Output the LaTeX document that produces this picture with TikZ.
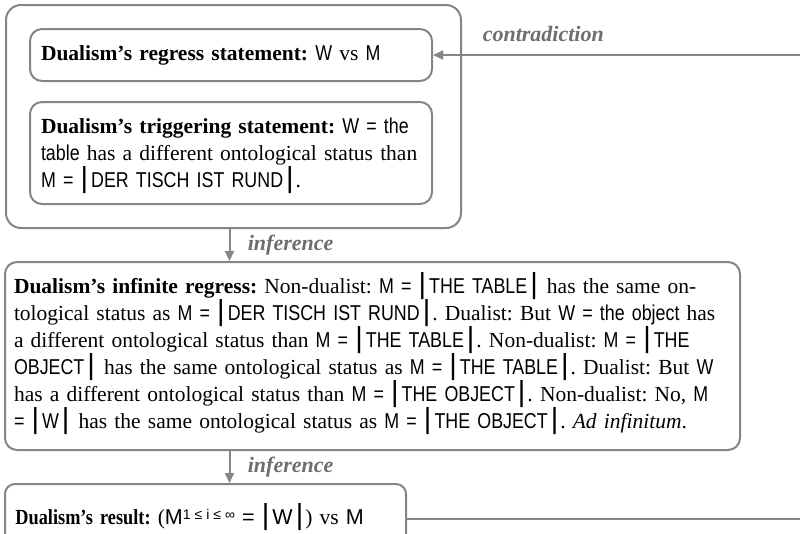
\documentclass[tikz,border=0pt]{standalone}
\usepackage{fontspec}
\setmainfont{Liberation Serif}
\newfontfamily\nsans[FakeStretch=0.83]{Liberation Sans}
\newfontfamily\fullsans{Liberation Sans}
\newfontfamily\condserif[FakeStretch=0.85]{Liberation Serif}
\usepackage{tikz}
\usetikzlibrary{positioning,arrows.meta}
\definecolor{linegray}{HTML}{858585}
\definecolor{labelgray}{HTML}{6E6E6E}
\newcommand{\sv}[1]{{\nsans #1}}
\newcommand{\vbar}{\smash{\fontsize{29}{27}\fullsans|}}
\newcommand{\ob}{\vbar\hspace{3pt}}
\newcommand{\cb}{\hspace{3pt}\vbar\hspace{2pt}}
\frenchspacing

\begin{document}
\begin{tikzpicture}[
    x=1pt, y=-1pt,
    >={Triangle[length=10pt,width=9pt]},
    box/.style={draw=linegray, line width=2pt, rounded corners=12pt,
                anchor=north west, inner xsep=10pt, align=left,
                font=\fontsize{21.5}{27}\selectfont},
    arrow/.style={->, draw=linegray, line width=2pt},
    lbl/.style={font=\fontsize{22}{26}\selectfont\bfseries\itshape,
                text=labelgray},
]
\useasboundingbox (0,0) rectangle (800,533);

% dualism group
\node[box, rounded corners=15pt, minimum width=455pt,
      minimum height=223pt] (group) at (5,4) {};
\node[box, minimum width=402pt, minimum height=52pt, text width=380pt]
    (regstmt) at (29,28)
    {\textbf{Dualism’s regress statement:} \sv{W} vs \sv{M}};
\node[box, minimum width=402pt, minimum height=102pt, text width=380pt]
    (trigger) at (29,101)
    {\textbf{Dualism’s triggering statement:} \sv{W = the}\\
     \sv{table} has a different ontological status than\\
     \sv{M =} \ob\sv{DER TISCH IST RUND}\cb.};

% infinite regress
\node[box, inner xsep=9pt, minimum width=735pt, minimum height=188pt,
      text width=717pt] (infreg) at (4,261)
    {\textbf{Dualism’s infinite regress:} Non-dualist: \sv{M =} \ob\sv{THE TABLE}\cb\ has the same on-\\
     tological status as \sv{M =} \ob\sv{DER TISCH IST RUND}\cb. Dualist: But \sv{W = the object} has\\
     a different ontological status than \sv{M =} \ob\sv{THE TABLE}\cb. Non-dualist: \sv{M =} \ob\sv{THE}\\
     \sv{OBJECT}\cb\ has the same ontological status as \sv{M =} \ob\sv{THE TABLE}\cb. Dualist: But \sv{W}\\
     has a different ontological status than \sv{M =} \ob\sv{THE OBJECT}\cb. Non-dualist: No, \sv{M}\\
     \sv{=} \ob\sv{W}\cb\ has the same ontological status as \sv{M =} \ob\sv{THE OBJECT}\cb. \textit{Ad infinitum}.};

% result
\node[box, rounded corners=10pt, minimum width=401pt, minimum height=70pt,
      text width=380pt] (result) at (4,483)
    {{\condserif\bfseries Dualism’s result:} ({\fullsans M\raisebox{5pt}{\fontsize{14}{14}\selectfont 1\hspace{4pt}≤\hspace{4pt}i\hspace{4pt}≤\hspace{4pt}∞} =} \ob{\fullsans W}\cb) vs {\fullsans M}};

% inferences
\draw[arrow] ([xshift=-4pt]group.south) --
    node[right=14pt, lbl] {inference}
    ([xshift=-4pt]group.south |- infreg.north);
\draw[arrow] ([xshift=-4pt]group.south |- infreg.south) --
    node[right=14pt, lbl] {inference}
    ([xshift=-4pt]group.south |- result.north);

% contradiction loop
\draw[arrow] (result.east) -- ++(420,0) coordinate (turn)
    -- (turn |- regstmt.east) --
    node[pos=0.72, above=9pt, lbl] {contradiction} (regstmt.east);

\end{tikzpicture}
\end{document}
